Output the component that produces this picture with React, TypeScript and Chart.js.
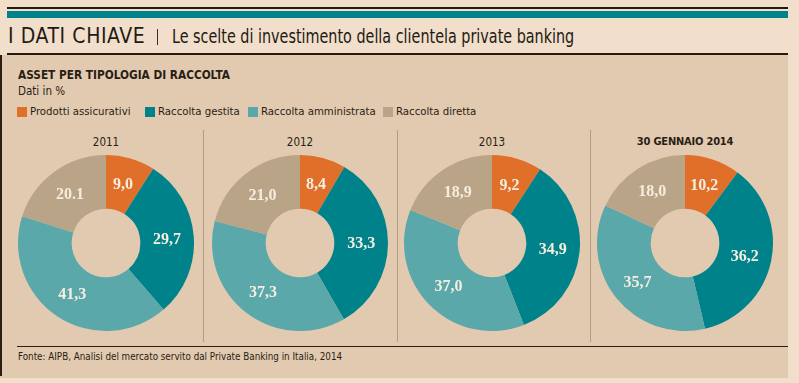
import React, { useEffect, useRef } from "react";
import { Chart, registerables } from "chart.js";

Chart.register(...registerables);

const categories = ["Prodotti assicurativi", "Raccolta gestita", "Raccolta amministrata", "Raccolta diretta"];
const periods = ["2011", "2012", "2013", "30 GENNAIO 2014"];
const values2011 = [9.0, 29.7, 41.3, 20.1];
const values2012 = [8.4, 33.3, 37.3, 21.0];
const values2013 = [9.2, 34.9, 37.0, 18.9];
const values2014 = [10.2, 36.2, 35.7, 18.0];
const labels2011 = ["9,0", "29,7", "41,3", "20.1"];
const labels2012 = ["8,4", "33,3", "37,3", "21,0"];
const labels2013 = ["9,2", "34,9", "37,0", "18,9"];
const labels2014 = ["10,2", "36,2", "35,7", "18,0"];

const seriesValues = [values2011, values2012, values2013, values2014];
const seriesLabels = [labels2011, labels2012, labels2013, labels2014];

const COLORS = ["#e07029", "#00828b", "#5aa8a9", "#b9a487"];
const SANS = '"Liberation Sans Narrow", "DejaVu Sans Condensed", "Roboto", sans-serif';

const labelPlugin = {
  id: "sliceLabels",
  afterDatasetsDraw(chart: any) {
    const ctx = chart.ctx;
    const meta = chart.getDatasetMeta(0);
    const labels = chart.options.plugins.sliceLabels.labels as string[];
    ctx.save();
    ctx.font = 'bold 16px "Liberation Serif", "DejaVu Serif", serif';
    ctx.fillStyle = "#f6ede1";
    ctx.textAlign = "center";
    ctx.textBaseline = "middle";
    meta.data.forEach((arc: any, i: number) => {
      const p = arc.tooltipPosition();
      ctx.fillText(labels[i], p.x, p.y + 1);
    });
    ctx.restore();
  },
};

function Donut({ values, labels, cx, cy }: { values: number[]; labels: string[]; cx: number; cy: number }) {
  const ref = useRef<HTMLCanvasElement>(null);
  useEffect(() => {
    if (!ref.current) return;
    const chart = new Chart(ref.current, {
      type: "doughnut",
      data: {
        labels: categories,
        datasets: [{ data: values, backgroundColor: COLORS, borderWidth: 0 }],
      },
      options: {
        animation: false,
        responsive: false,
        cutout: "39%",
        layout: { padding: 0 },
        plugins: {
          legend: { display: false },
          tooltip: { enabled: false },
          sliceLabels: { labels },
        } as any,
      },
      plugins: [labelPlugin],
    });
    return () => chart.destroy();
  }, []);
  const size = 176;
  return (
    <canvas
      ref={ref}
      width={size}
      height={size}
      style={{ position: "absolute", left: cx - size / 2, top: cy - size / 2, width: size, height: size }}
    />
  );
}

export default function App() {
  const centers = [106, 300, 492, 685];
  const legendX = [17, 145, 248, 383];
  const abs = (s: React.CSSProperties): React.CSSProperties => ({ position: "absolute", whiteSpace: "nowrap", ...s });
  const sx = (k: number): React.CSSProperties => ({ transform: `scaleX(${k})`, transformOrigin: "left center" });
  return (
    <div style={{ position: "fixed", left: 0, top: 0, width: 799, height: 383, background: "#f1dfcb", overflow: "hidden", fontFamily: SANS, color: "#2a1d14" }}>
      {/* header lines */}
      <div style={abs({ left: 7, top: 7, width: 781, height: 2, background: "#231a12" })} />
      <div style={abs({ left: 7, top: 11, width: 781, height: 7, background: "#00828b" })} />
      <div style={abs({ left: 8, top: 24, fontSize: 21, lineHeight: "24px", letterSpacing: 0.6, color: "#231a12" })}>I DATI CHIAVE</div>
      <div style={abs({ left: 157, top: 29, width: 1, height: 16, background: "#3a2d22" })} />
      <div style={abs({ left: 172, top: 24, fontSize: 19, lineHeight: "24px", color: "#231a12", ...sx(0.84) })}>
        Le scelte di investimento della clientela private banking
      </div>
      {/* panel */}
      <div style={abs({ left: 0, top: 55, width: 788, height: 323, background: "#e2cab0" })} />
      <div style={abs({ left: 7, top: 53, width: 781, height: 2, background: "#231a12" })} />
      <div style={abs({ left: 0, top: 55, width: 2, height: 321, background: "#2a1d14" })} />

      <div style={abs({ left: 18, top: 68, fontSize: 12.5, fontWeight: "bold", lineHeight: "14px", ...sx(0.94) })}>ASSET PER TIPOLOGIA DI RACCOLTA</div>
      <div style={abs({ left: 18, top: 84, fontSize: 11.5, lineHeight: "14px" })}>Dati in %</div>

      {categories.map((c, i) => (
        <div key={c} style={abs({ left: legendX[i], top: 105, display: "flex", alignItems: "center", fontSize: 11.3, lineHeight: "14px" })}>
          <div style={{ width: 10, height: 10, background: COLORS[i], marginRight: 3 }} />
          <span>{c}</span>
        </div>
      ))}

      {[203, 397, 590].map((x) => (
        <div key={x} style={abs({ left: x, top: 130, width: 1, height: 212, background: "#b39c84" })} />
      ))}

      {periods.map((p, i) => (
        <div
          key={p}
          style={abs({
            left: centers[i] - 80,
            width: 160,
            top: 135,
            textAlign: "center",
            fontSize: i === 3 ? 11 : 11.5,
            lineHeight: "14px",
            fontWeight: i === 3 ? "bold" : "normal",
            letterSpacing: i === 3 ? -0.2 : 0,
          })}
        >
          {p}
        </div>
      ))}

      {seriesValues.map((v, i) => (
        <Donut key={i} values={v} labels={seriesLabels[i]} cx={centers[i]} cy={243} />
      ))}

      <div style={abs({ left: 17, top: 346, width: 771, height: 1, background: "#2a1d14" })} />
      <div style={abs({ left: 18, top: 349, fontSize: 10.5, lineHeight: "14px", ...sx(0.93) })}>
        Fonte: AIPB, Analisi del mercato servito dal Private Banking in Italia, 2014
      </div>
    </div>
  );
}
